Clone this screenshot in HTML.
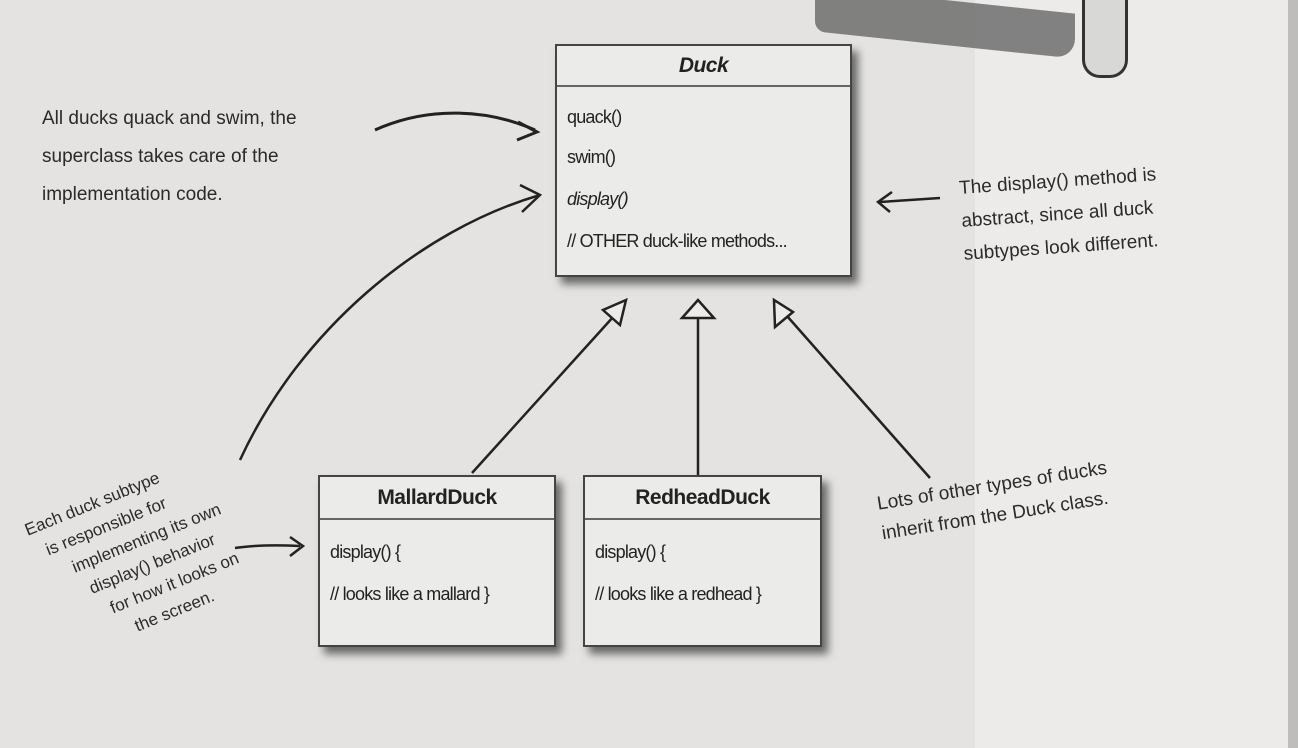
<!DOCTYPE html>
<html><head><style>
body{margin:0;width:1298px;height:748px;overflow:hidden;background:#ecebe9;font-family:"Liberation Sans",sans-serif;position:relative}
.bgdark{position:absolute;left:0;top:0;width:975px;height:748px;background:#e4e3e1}
.edge{position:absolute;left:1288px;top:0;width:10px;height:748px;background:#bdbdbb}
.box{position:absolute;background:#ebebea;border:2px solid #444;box-shadow:6px 7px 8px rgba(0,0,0,.55)}
.hd{border-bottom:2px solid #666;text-align:center;font-weight:bold;color:#222;letter-spacing:-0.5px}
.m{position:absolute;left:10px;font-size:18px;color:#222;letter-spacing:-0.8px}
.hw{position:absolute;font-size:18px;color:#2a2a2a;font-family:"Liberation Sans Narrow","Liberation Sans",sans-serif}
</style></head><body>
<div class="bgdark"></div><div class="edge"></div>
<div style="position:absolute;left:815px;top:0;width:260px;height:45px;background:#666;transform:skewY(6deg);border-radius:0 0 20px 10px;opacity:.8"></div>
<div style="position:absolute;left:1082px;top:0;width:40px;height:75px;background:#d8d8d6;border:3px solid #333;border-top:none;border-radius:0 0 18px 18px"></div>

<div class="box" style="left:555px;top:44px;width:293px;height:229px">
 <div class="hd" style="height:39px;line-height:39px;font-style:italic;font-size:21px">Duck</div>
 <div class="m" style="top:61px">quack()</div>
 <div class="m" style="top:101px">swim()</div>
 <div class="m" style="top:143px;font-style:italic">display()</div>
 <div class="m" style="top:185px">// OTHER duck-like methods...</div>
</div>
<div class="box" style="left:318px;top:475px;width:234px;height:168px">
 <div class="hd" style="height:41px;line-height:41px;font-size:21px">MallardDuck</div>
 <div class="m" style="top:65px">display() {</div>
 <div class="m" style="top:107px">// looks like a mallard }</div>
</div>
<div class="box" style="left:583px;top:475px;width:235px;height:168px">
 <div class="hd" style="height:41px;line-height:41px;font-size:21px">RedheadDuck</div>
 <div class="m" style="top:65px">display() {</div>
 <div class="m" style="top:107px">// looks like a redhead }</div>
</div>

<svg width="1298" height="748" style="position:absolute;left:0;top:0" fill="none" stroke="#222" stroke-width="2.5">
 <line x1="472" y1="473" x2="614" y2="316"/>
 <polygon points="626,300 603,310 620,325" fill="#ecebe9"/>
 <line x1="698" y1="475" x2="698" y2="318"/>
 <polygon points="698,300 682,318 714,318" fill="#ecebe9"/>
 <line x1="930" y1="478" x2="787" y2="316"/>
 <polygon points="774,300 775,327 793,312" fill="#ecebe9"/>
 <path d="M375,130 C430,105 490,110 535,130" stroke-width="3"/>
 <path d="M518,122 L537,132 L517,140" stroke-width="3"/>
 <path d="M240,460 C300,330 420,230 540,195"/>
 <path d="M520,185 L540,195 L522,212"/>
 <path d="M940,198 L880,202"/>
 <path d="M892,192 L878,202 L890,212"/>
 <path d="M235,548 C255,545 280,545 300,546"/>
 <path d="M290,537 L303,546 L290,556"/>
</svg>

<div class="hw" style="left:42px;top:100px;line-height:38px;font-size:19px">All ducks quack and swim, the<br>superclass takes care of the<br>implementation code.</div>
<div class="hw" style="left:958px;top:172px;transform:rotate(-4deg);transform-origin:left top;line-height:33px;font-size:19px">The display() method is<br>abstract, since all duck<br>subtypes look different.</div>
<div class="hw" style="left:875px;top:490px;transform:rotate(-9deg);transform-origin:left top;line-height:30px;font-size:19px">Lots of other types of ducks<br>inherit from the Duck class.</div>
<div class="hw" style="left:22px;top:522px;transform:rotate(-22deg);transform-origin:left top;font-size:17px">
<span style="position:absolute;left:0;top:0;white-space:nowrap">Each duck subtype</span>
<span style="position:absolute;left:12px;top:26px;white-space:nowrap">is responsible for</span>
<span style="position:absolute;left:30px;top:52px;white-space:nowrap">implementing its own</span>
<span style="position:absolute;left:38px;top:78px;white-space:nowrap">display() behavior</span>
<span style="position:absolute;left:50px;top:104px;white-space:nowrap">for how it looks on</span>
<span style="position:absolute;left:66px;top:130px;white-space:nowrap">the screen.</span>
</div>
</body></html>
